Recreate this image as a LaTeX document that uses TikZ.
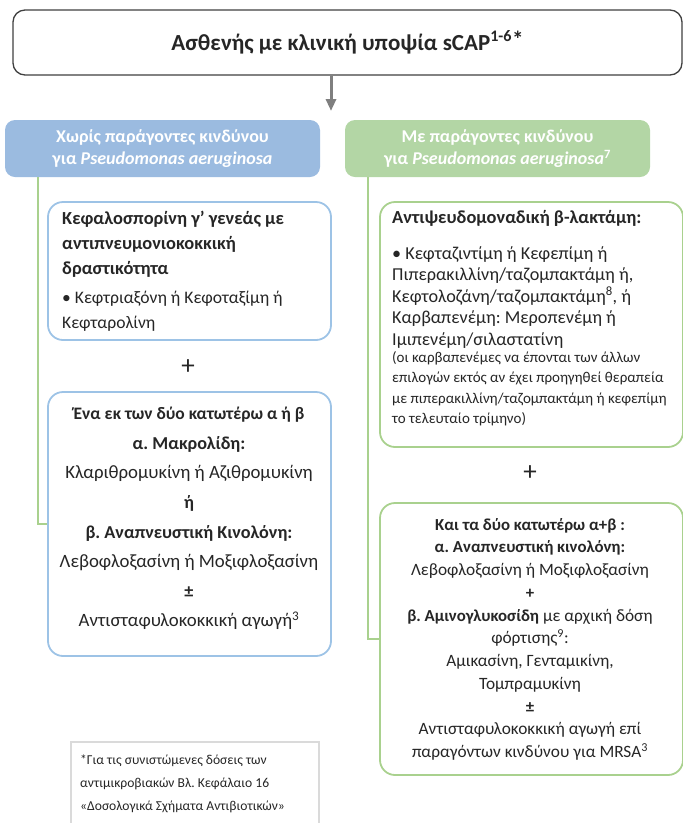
\documentclass[tikz,border=0pt]{standalone}
\usepackage{fontspec}
\setmainfont{Carlito}
\usetikzlibrary{arrows.meta}

\definecolor{ink}{HTML}{262626}
\definecolor{hblue}{HTML}{9BBBE0}
\definecolor{hgreen}{HTML}{B3D6A5}
\definecolor{bblue}{HTML}{9DC3E6}
\definecolor{bgreen}{HTML}{A9D18E}
\definecolor{framegray}{HTML}{404040}
\definecolor{arrowgray}{HTML}{7F7F7F}
\definecolor{notegray}{HTML}{DADADA}

\newcommand\fsz[2]{\fontsize{#1}{#2}\selectfont}
% bold line at a given size, keeping the leading of the node
\newcommand\bsz[2]{{\fontsize{#1}{\baselineskip}\selectfont\bfseries #2}}

\frenchspacing

\begin{document}
\begin{tikzpicture}[x=1pt,y=-1pt,
  every node/.style={text=ink},
  topbox/.style={draw=framegray, line width=1.3pt, rounded corners=12pt, fill=white},
  headbox/.style={rounded corners=10pt, text=white, align=center,
                  font=\bfseries\fsz{18}{22}},
  bluebox/.style={draw=bblue, line width=1.8pt, rounded corners=15pt},
  greenbox/.style={draw=bgreen, line width=1.8pt, rounded corners=15pt},
  txt/.style={inner sep=0pt},
  plussign/.style={inner sep=0pt, font=\fsz{27}{27}},
  gline/.style={draw=bgreen, line width=1.8pt},
  downarrow/.style={draw=arrowgray, line width=3pt,
                    -{Triangle[width=10pt,length=12pt]}},
  notebox/.style={draw=notegray, line width=2.4pt}
]
\clip (0,0) rectangle (683,823);

% title box and arrow
\node[topbox, minimum width=669pt, minimum height=65pt,
      font=\bfseries\fsz{23}{26}] (top) at (347.5,42.5)
  {Ασθενής με κλινική υποψία sCAP\textsuperscript{1-6}\raisebox{3pt}{*}};
\coordinate (arrowend) at (331,111);
\draw[downarrow] (top.south -| arrowend) -- (arrowend);

% headers
\node[headbox, fill=hblue, minimum width=315pt, minimum height=57pt] (hdrL) at (162.5,148.5)
  {Χωρίς παράγοντες κινδύνου\\για \textit{Pseudomonas aeruginosa}};
\node[headbox, fill=hgreen, minimum width=305pt, minimum height=57pt] (hdrR) at (497.5,148.5)
  {Με παράγοντες κινδύνου\\για \textit{Pseudomonas aeruginosa}\textsuperscript{7}};

% boxes
\node[bluebox, minimum width=283pt, minimum height=138pt] (boxL1) at (189.5,271) {};
\node[bluebox, minimum width=283pt, minimum height=264pt] (boxL2) at (189.5,524) {};
\node[greenbox, minimum width=303pt, minimum height=245pt] (boxR1) at (531.5,324.5) {};
\node[greenbox, minimum width=303pt, minimum height=272pt] (boxR2) at (531.5,639) {};

% connectors from the headers
\draw[gline] ([xshift=33pt]hdrL.south west) |- (boxL2.west);
\draw[gline] ([xshift=23pt]hdrR.south west) |- (boxR2.west);

% left column text
\node[txt, anchor=north west, align=left, font=\fsz{17.6}{25}] (tL1) at (62,211)
  {\bsz{18.4}{Κεφαλοσπορίνη γ’ γενεάς με}\\
   \bsz{18.4}{αντιπνευμονιοκοκκική}\\
   \bsz{18.4}{δραστικότητα}\\[4pt]
   • Κεφτριαξόνη ή Κεφοταξίμη ή\\
   Κεφταρολίνη};
\node[plussign] (plusL) at (188,367) {+};
\node[txt, anchor=north, align=center, font=\fsz{18.8}{29.6}] (tL2) at (189,407)
  {\bsz{17.5}{Ένα εκ των δύο κατωτέρω α ή β}\\
   \bsz{18.2}{α. Μακρολίδη:}\\
   Κλαριθρομυκίνη ή Αζιθρομυκίνη\\
   \bsz{18.2}{ή}\\
   \bsz{18.2}{β. Αναπνευστική Κινολόνη:}\\
   Λεβοφλοξασίνη ή Μοξιφλοξασίνη\\
   \bsz{18.2}{±}\\
   Αντισταφυλοκοκκική αγωγή\textsuperscript{3}};

% right column text
\node[txt, anchor=north west, align=left, font=\bfseries\fsz{18.4}{21.5}] (tR1a) at (392,210)
  {Αντιψευδομοναδική β-λακτάμη:};
\node[txt, anchor=north west, align=left, font=\fsz{18.2}{21.5}] (tR1b) at (392,246)
  {• Κεφταζιντίμη ή Κεφεπίμη ή\\
   Πιπερακιλλίνη/ταζομπακτάμη ή,\\
   Κεφτολοζάνη/ταζομπακτάμη\textsuperscript{8}, ή\\
   Καρβαπενέμη: Μεροπενέμη ή\\
   Ιμιπενέμη/σιλαστατίνη};
\node[txt, anchor=north west, align=left, font=\fsz{15}{20.6}] (tR1c) at (392,351)
  {(οι καρβαπενέμες να έπονται των άλλων\\
   επιλογών εκτός αν έχει προηγηθεί θεραπεία\\
   με πιπερακιλλίνη/ταζομπακτάμη ή κεφεπίμη\\
   το τελευταίο τρίμηνο)};
\node[plussign] (plusR) at (530,473) {+};
\node[txt, anchor=north, align=center, font=\fsz{17.3}{22.75}] (tR2) at (530,518)
  {\bsz{16.8}{Και τα δύο κατωτέρω α+β :}\\
   \bsz{16.8}{α. Αναπνευστική κινολόνη:}\\
   Λεβοφλοξασίνη ή Μοξιφλοξασίνη\\
   \bsz{16.8}{+}\\
   \bsz{16.8}{β. Αμινογλυκοσίδη} με αρχική δόση\\
   φόρτισης\textsuperscript{9}:\\
   Αμικασίνη, Γενταμικίνη,\\
   Τομπραμυκίνη\\
   \bsz{16.8}{±}\\
   Αντισταφυλοκοκκική αγωγή επί\\
   παραγόντων κινδύνου για MRSA\textsuperscript{3}};

% dosing note
\node[notebox, minimum width=248pt, minimum height=90pt, anchor=north west] (note) at (70,741) {};
\node[txt, anchor=north west, align=left, font=\fsz{13.6}{23}] (tnote) at (80,754.5)
  {*Για τις συνιστώμενες δόσεις των\\
   αντιμικροβιακών Βλ. Κεφάλαιο 16\\
   «Δοσολογικά Σχήματα Αντιβιοτικών»};
\end{tikzpicture}
\end{document}
